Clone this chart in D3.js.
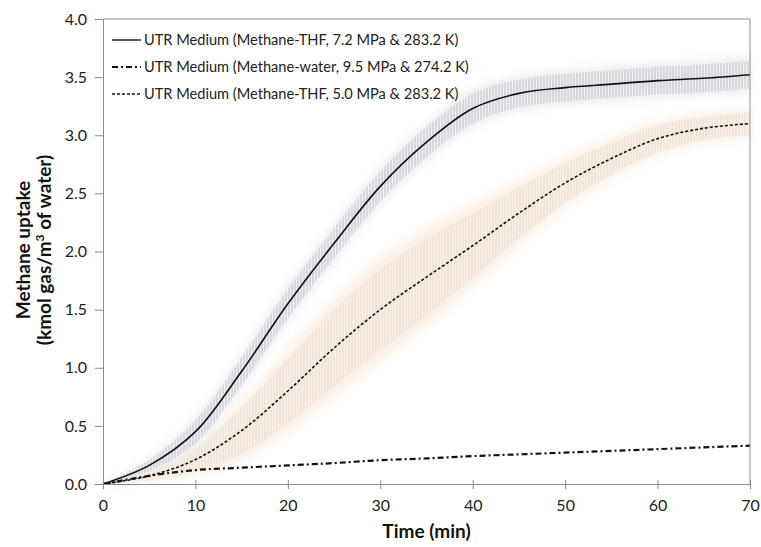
<!DOCTYPE html>
<html>
<head>
<meta charset="utf-8">
<script src="https://cdn.jsdelivr.net/npm/d3@7"></script>
<style>
  body { margin: 0; background: #fff; }
  svg { font-family: Lato, "Liberation Sans", sans-serif; }
</style>
</head>
<body>
<div id="chart"></div>
<script>
var width = 761;
var height = 547;

// time in minutes
var times = [0, 5, 10, 15, 20, 25, 30, 35, 40, 45, 50, 55, 60, 65, 70];
// methane-THF 7.2 MPa & 283.2 K
var thf72 = [0, 0.16, 0.45, 0.97, 1.55, 2.07, 2.56, 2.94, 3.23, 3.36, 3.41, 3.44, 3.47, 3.49, 3.52];
var thf72Err = [0, 0.05, 0.1, 0.12, 0.13, 0.13, 0.13, 0.13, 0.13, 0.12, 0.12, 0.12, 0.12, 0.12, 0.12];
// methane-water 9.5 MPa & 274.2 K
var water95 = [0, 0.07, 0.12, 0.14, 0.16, 0.18, 0.205, 0.22, 0.24, 0.255, 0.27, 0.285, 0.3, 0.315, 0.33];
// methane-THF 5.0 MPa & 283.2 K
var thf50 = [0, 0.07, 0.21, 0.46, 0.8, 1.17, 1.5, 1.78, 2.05, 2.33, 2.59, 2.8, 2.97, 3.06, 3.1];
var thf50Err = [0, 0.04, 0.1, 0.2, 0.28, 0.33, 0.35, 0.33, 0.28, 0.22, 0.17, 0.14, 0.12, 0.1, 0.1];

var xTicks = [0, 10, 20, 30, 40, 50, 60, 70];
var yTicks = [0, 0.5, 1, 1.5, 2, 2.5, 3, 3.5, 4];
var legendLabels = [
  "UTR Medium (Methane-THF, 7.2 MPa & 283.2 K)",
  "UTR Medium (Methane-water, 9.5 MPa & 274.2 K)",
  "UTR Medium (Methane-THF, 5.0 MPa & 283.2 K)"
];
var legendDash = [null, "6,3,2,3", "3,2"];

var margin = {left: 103, right: 11, top: 19, bottom: 63};

var svg = d3.select("#chart").append("svg")
    .attr("width", width)
    .attr("height", height);

svg.append("rect").attr("width", width).attr("height", height).attr("fill", "#fff");

var defs = svg.append("defs");
defs.append("filter").attr("id", "soft")
    .attr("x", "-20%").attr("y", "-20%").attr("width", "140%").attr("height", "140%")
  .append("feGaussianBlur").attr("stdDeviation", 4);

function hatch(id, color) {
  var p = defs.append("pattern").attr("id", id)
      .attr("patternUnits", "userSpaceOnUse")
      .attr("width", 3).attr("height", 6);
  p.append("line").attr("x1", 1).attr("x2", 1).attr("y1", 0).attr("y2", 6)
      .attr("stroke", color).attr("stroke-width", 0.8);
}
hatch("hatchGray", "#8a8e96");
hatch("hatchBeige", "#b9aea3");

var x = d3.scaleLinear().domain([0, 70]).range([margin.left, width - margin.right]);
var y = d3.scaleLinear().domain([0, 4]).range([height - margin.bottom, margin.top]);

var idx = d3.range(times.length);
var curve = d3.curveCatmullRom.alpha(0.5);

function band(vals, errs, k) {
  return d3.area()
      .x(function(i){ return x(times[i]) })
      .y0(function(i){ return y(vals[i] - errs[i] * k) })
      .y1(function(i){ return y(vals[i] + errs[i] * k) })
      .curve(curve);
}

var plot = svg.append("g");

// error bands
plot.append("path").attr("d", band(thf50, thf50Err, 1.3)(idx))
    .attr("fill", "#fbeadb").attr("opacity", 0.7).attr("filter", "url(#soft)");
plot.append("path").attr("d", band(thf50, thf50Err, 1)(idx))
    .attr("fill", "url(#hatchBeige)").attr("opacity", 0.4);
plot.append("path").attr("d", band(thf72, thf72Err, 1.3)(idx))
    .attr("fill", "#e8eaef").attr("opacity", 0.8).attr("filter", "url(#soft)");
plot.append("path").attr("d", band(thf72, thf72Err, 1)(idx))
    .attr("fill", "url(#hatchGray)").attr("opacity", 0.6);

// axes
var xAxis = svg.append("g")
    .attr("transform", "translate(0," + y(0) + ")")
    .call(d3.axisBottom(x).tickValues(xTicks).tickSize(5).tickSizeOuter(0).tickPadding(11));
xAxis.selectAll(".tick line").attr("y1", -4);

var yAxis = svg.append("g")
    .attr("transform", "translate(" + x(0) + ",0)")
    .call(d3.axisLeft(y).tickValues(yTicks).tickFormat(d3.format(".1f")).tickSize(8).tickSizeOuter(0).tickPadding(8));

svg.selectAll(".domain, .tick line").attr("stroke", "#8c8c8c");
svg.selectAll(".tick text").attr("font-size", 16).attr("fill", "#222")
    .attr("font-family", "Lato, sans-serif");

// frame top and right
svg.append("line").attr("x1", x(0)).attr("x2", x(70)).attr("y1", y(4)).attr("y2", y(4))
    .attr("stroke", "#8c8c8c");
svg.append("line").attr("x1", x(70)).attr("x2", x(70)).attr("y1", y(4)).attr("y2", y(0))
    .attr("stroke", "#8c8c8c");

// lines
function line(vals) {
  return d3.line()
      .x(function(i){ return x(times[i]) })
      .y(function(i){ return y(vals[i]) })
      .curve(curve)(idx);
}
var series = [thf72, water95, thf50];
plot.selectAll("path.series").data(series).enter()
    .append("path")
    .attr("class", "series")
    .attr("d", function(d){ return line(d) })
    .attr("fill", "none")
    .attr("stroke", "#111")
    .attr("stroke-width", function(d, i){ return i == 1 ? 2.2 : 1.6 })
    .attr("stroke-dasharray", function(d, i){ return legendDash[i] });

// legend
var leg = svg.append("g");
legendLabels.forEach(function(lab, i) {
  var ly = 40 + i * 27;
  leg.append("line").attr("x1", 112).attr("x2", 141).attr("y1", ly).attr("y2", ly)
      .attr("stroke", "#111").attr("stroke-width", i == 1 ? 2 : 1.4)
      .attr("stroke-dasharray", legendDash[i]);
  leg.append("text").attr("x", 144).attr("y", ly + 5)
      .attr("font-size", 14.6).attr("fill", "#222").text(lab);
});

// axis titles
svg.append("text")
    .attr("x", (x(0) + x(70)) / 2).attr("y", 538)
    .attr("text-anchor", "middle").attr("font-size", 19).attr("font-weight", "bold")
    .attr("fill", "#111").text("Time (min)");

var yt = svg.append("text")
    .attr("transform", "translate(30,250) rotate(-90)")
    .attr("text-anchor", "middle").attr("font-size", 19).attr("font-weight", "bold")
    .attr("fill", "#111");
yt.append("tspan").attr("x", 0).attr("y", 0).text("Methane uptake");
var t2 = yt.append("tspan").attr("x", 0).attr("y", 21);
t2.append("tspan").text("(kmol gas/m");
t2.append("tspan").attr("font-size", 12).attr("dy", -7).text("3");
t2.append("tspan").attr("dy", 7).text(" of water)");
</script>
</body>
</html>
